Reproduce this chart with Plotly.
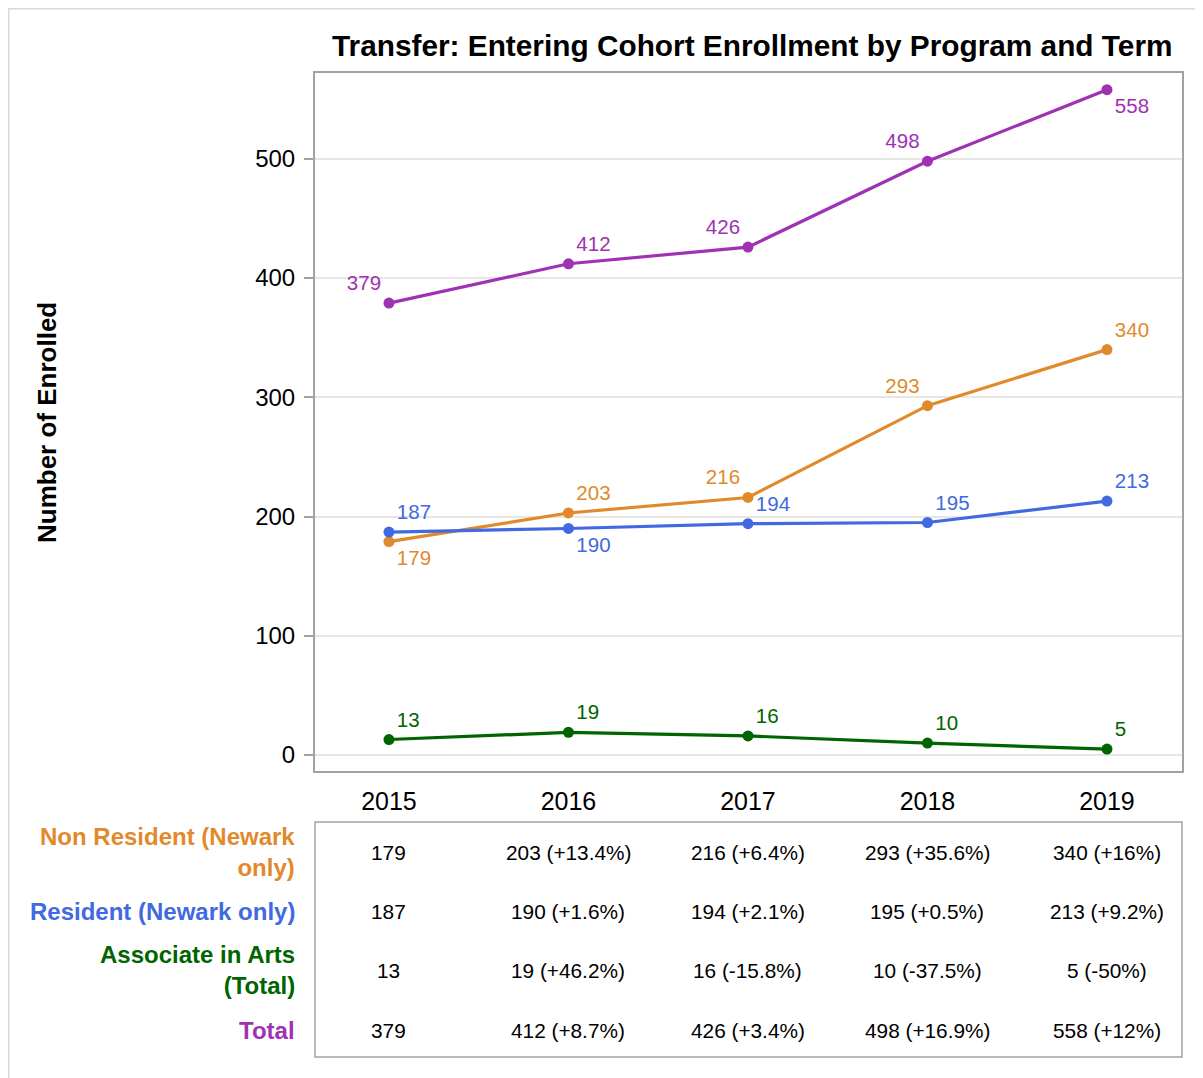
import plotly.graph_objects as go

years = [2015, 2016, 2017, 2018, 2019]
series_names = ["Non Resident (Newark<br>only)", "Resident (Newark only)", "Associate in Arts<br>(Total)", "Total"]
non_resident = [179, 203, 216, 293, 340]
resident = [187, 190, 194, 195, 213]
associate = [13, 19, 16, 10, 5]
total = [379, 412, 426, 498, 558]

non_resident_tbl = ["179", "203 (+13.4%)", "216 (+6.4%)", "293 (+35.6%)", "340 (+16%)"]
resident_tbl = ["187", "190 (+1.6%)", "194 (+2.1%)", "195 (+0.5%)", "213 (+9.2%)"]
associate_tbl = ["13", "19 (+46.2%)", "16 (-15.8%)", "10 (-37.5%)", "5 (-50%)"]
total_tbl = ["379", "412 (+8.7%)", "426 (+3.4%)", "498 (+16.9%)", "558 (+12%)"]

colors = ["#e08a2c", "#4169e1", "#006400", "#9f31b3"]
pos_non = ["bottom right", "top right", "top left", "top left", "top right"]
pos_res = ["top right", "bottom right", "top right", "top right", "top right"]
pos_aa = ["top right"] * 5
pos_tot = ["top left", "top right", "top left", "top left", "bottom right"]

FONT = "Liberation Sans, Arial, sans-serif"
OFF = 8  # page body margin
W, H = 1195, 1070
L, T = 315 - OFF, 73 - OFF
R = W - (1182 - OFF)
B = H - (771 - OFF)
PW, PH = W - L - R, H - T - B

def px_x(px):
    return (px - OFF - L) / PW

def px_y(py):
    return (H - B - (py - OFF)) / PH

fig = go.Figure()
for vals, pos, col in [(total, pos_tot, colors[3]), (non_resident, pos_non, colors[0]),
                       (resident, pos_res, colors[1]), (associate, pos_aa, colors[2])]:
    fig.add_trace(go.Scatter(
        x=years, y=vals, mode="lines+markers+text",
        text=[str(v) for v in vals], textposition=pos,
        textfont=dict(family=FONT, size=20.5, color=col),
        line=dict(color=col, width=3.2),
        marker=dict(color=col, size=11),
        showlegend=False, cliponaxis=False,
    ))

annotations = []
annotations.append(dict(
    text="<b>Transfer: Entering Cohort Enrollment by Program and Term</b>",
    xref="paper", yref="paper", x=px_x(752), y=px_y(46), showarrow=False,
    xanchor="center", yanchor="middle",
    font=dict(family=FONT, size=29.8, color="black"),
))
annotations.append(dict(
    text="<b>Number of Enrolled</b>", textangle=-90,
    xref="paper", yref="paper", x=px_x(47), y=px_y(423), showarrow=False,
    xanchor="center", yanchor="middle",
    font=dict(family=FONT, size=26, color="black"),
))
row_py = [852, 911, 970, 1030]
tables = [non_resident_tbl, resident_tbl, associate_tbl, total_tbl]
for name, col, py, row in zip(series_names, colors, row_py, tables):
    annotations.append(dict(
        text="<b>" + name + "</b>", xref="paper", yref="paper",
        x=px_x(297), y=px_y(py), showarrow=False, xanchor="right", yanchor="middle",
        align="right", font=dict(family=FONT, size=24, color=col),
    ))
    for yr, cell in zip(years, row):
        annotations.append(dict(
            text=cell, xref="x", yref="paper", x=yr, y=px_y(py), showarrow=False,
            xanchor="center", yanchor="middle",
            font=dict(family=FONT, size=20.8, color="black"),
        ))

shapes = [
    dict(type="rect", xref="paper", yref="paper", x0=0, x1=1, y0=px_y(822), y1=px_y(1057),
         line=dict(color="#9ea3a8", width=1.5), fillcolor="rgba(0,0,0,0)"),
    dict(type="rect", xref="paper", yref="paper", x0=(0.5 - L) / PW, x1=(W - 1 - L) / PW,
         y0=(H - B - (H + 5)) / PH, y1=(H - B - 0.5) / PH,
         line=dict(color="#d9d9d9", width=2), fillcolor="rgba(0,0,0,0)"),
]

fig.update_layout(
    width=W, height=H,
    margin=dict(l=L, r=R, t=T, b=B, autoexpand=False),
    plot_bgcolor="white", paper_bgcolor="white",
    annotations=annotations, shapes=shapes,
    font=dict(family=FONT, color="black"),
)
fig.update_xaxes(
    range=[2014.588, 2019.418], tickvals=years, ticktext=[str(y) for y in years],
    showgrid=False, zeroline=False, showline=True, linecolor="#9ea3a8", linewidth=2, mirror=True,
    ticks="", ticklabelstandoff=7, tickfont=dict(family=FONT, size=25, color="black"),
)
fig.update_yaxes(
    range=[-13.4, 572], tickvals=[0, 100, 200, 300, 400, 500],
    showgrid=True, gridcolor="#e6e6e6", gridwidth=1.5, zeroline=False,
    showline=True, linecolor="#9ea3a8", linewidth=2, mirror=True,
    ticks="outside", ticklen=9, tickcolor="#9ea3a8", tickwidth=1.5, ticklabelstandoff=4,
    tickfont=dict(family=FONT, size=24, color="black"),
)
fig.write_html("out.html")
